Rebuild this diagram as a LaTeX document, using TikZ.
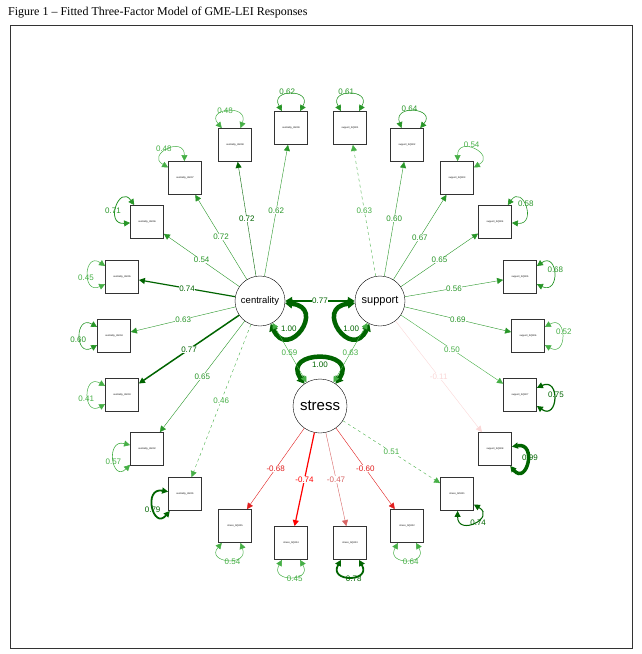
\documentclass[tikz,border=0pt]{standalone}
\usepackage{fontspec}
\setmainfont{Liberation Serif}
\setsansfont{Liberation Sans}
\usetikzlibrary{arrows.meta}

\definecolor{lgreen}{RGB}{70,175,70}
\definecolor{mgreen}{RGB}{40,150,40}
\definecolor{dgreen}{RGB}{0,100,0}
\definecolor{mred}{RGB}{225,30,30}
\definecolor{lred}{RGB}{215,100,100}
\definecolor{fpink}{RGB}{250,215,215}

\tikzset{
  box/.style={draw=black!80,thick,minimum size=33pt,inner sep=0pt,font=\sffamily\fontsize{2.4}{3}\selectfont},
  latent/.style={draw,circle,minimum size=50pt,inner sep=0pt,font=\sffamily},
  load/.style={-{Triangle[length=6pt,width=6pt]}},
  coef/.style={font=\sffamily\fontsize{8}{9}\selectfont,fill=white,inner sep=0.4pt},
}

% residual loop: node, outward angle, label, colour, width
\newcommand{\resloop}[5]{%
  \pgfmathtruncatemacro\ra{#2+28}%
  \pgfmathtruncatemacro\rb{#2-28}%
  \pgfmathtruncatemacro\ca{-(#2+30)}%
  \pgfmathtruncatemacro\cb{-(#2-30)}%
  \pgfmathtruncatemacro\cl{-(#2+6)}%
  \draw[#4,line width=#5,{Triangle[length=6pt,width=6pt]}-{Triangle[length=6pt,width=6pt]}]
    (#1.\ra) .. controls +(\ca:26) and +(\cb:26) .. (#1.\rb);
  \path (#1) ++(\cl:36) node[coef,text=#4,fill=none] {#3};}

\begin{document}
\begin{tikzpicture}[x=1pt,y=-1pt]
\useasboundingbox (0,0) rectangle (641,654);
\node[anchor=west,font=\fontsize{12}{14}\selectfont,inner sep=0pt] (title) at (8,13) {Figure 1 – Fitted Three-Factor Model of GME-LEI Responses};
\draw[black!80] (10,25) rectangle (632,648);

% latent variables
\node[latent,font=\sffamily\fontsize{9.5}{11}\selectfont] (cen) at (260,301) {centrality};
\node[latent,font=\sffamily\fontsize{11}{13}\selectfont] (sup) at (380,301) {support};
\node[latent,minimum size=54pt,font=\sffamily\fontsize{15}{17}\selectfont] (str) at (320,406) {stress};

% centrality indicators
\node[box] (ig1) at (185,494) {centrality\_IG001};
\node[box] (ig2) at (147,449) {centrality\_IG002};
\node[box] (ig3) at (122,395) {centrality\_IG003};
\node[box] (ig4) at (114,336) {centrality\_IG004};
\node[box] (ig5) at (122,277) {centrality\_IG005};
\node[box] (ig6) at (147,222) {centrality\_IG006};
\node[box] (ig7) at (185,178) {centrality\_IG007};
\node[box] (ig8) at (235,145) {centrality\_IG008};
\node[box] (ig9) at (291,128) {centrality\_IG009};

% support indicators
\node[box] (sq1) at (350,128) {support\_SQ001};
\node[box] (sq2) at (407,145) {support\_SQ002};
\node[box] (sq3) at (457,178) {support\_SQ003};
\node[box] (sq4) at (495,222) {support\_SQ004};
\node[box] (sq5) at (520,277) {support\_SQ005};
\node[box] (sq6) at (528,336) {support\_SQ006};
\node[box] (sq7) at (520,395) {support\_SQ007};
\node[box] (sq8) at (495,449) {support\_SQ008};

% stress indicators
\node[box] (so1) at (457,494) {stress\_SO001};
\node[box] (so2) at (407,526) {stress\_SQ002};
\node[box] (so3) at (350,543) {stress\_SQ003};
\node[box] (so4) at (291,543) {stress\_SQ004};
\node[box] (so5) at (235,526) {stress\_SQ005};

% loadings
\draw[load,lgreen,dashed] (cen) -- (ig1) node[midway,coef,text=lgreen] {0.46};
\draw[load,mgreen] (cen) -- (ig2) node[midway,coef] {0.65};
\draw[load,dgreen,line width=1.5pt] (cen) -- (ig3) node[midway,coef] {0.77};
\draw[load,mgreen] (cen) -- (ig4) node[midway,coef] {0.63};
\draw[load,dgreen,line width=1.2pt] (cen) -- (ig5) node[midway,coef] {0.74};
\draw[load,mgreen] (cen) -- (ig6) node[midway,coef] {0.54};
\draw[load,mgreen] (cen) -- (ig7) node[midway,coef] {0.72};
\draw[load,dgreen] (cen) -- (ig8) node[midway,coef] {0.72};
\draw[load,mgreen] (cen) -- (ig9) node[midway,coef] {0.62};

\draw[load,lgreen,dashed] (sup) -- (sq1) node[midway,coef] {0.63};
\draw[load,mgreen] (sup) -- (sq2) node[midway,coef] {0.60};
\draw[load,mgreen] (sup) -- (sq3) node[midway,coef] {0.67};
\draw[load,mgreen] (sup) -- (sq4) node[midway,coef] {0.65};
\draw[load,mgreen] (sup) -- (sq5) node[midway,coef] {0.56};
\draw[load,mgreen] (sup) -- (sq6) node[midway,coef] {0.69};
\draw[load,lgreen] (sup) -- (sq7) node[midway,coef] {0.50};
\draw[load,fpink] (sup) -- (sq8) node[midway,coef] {-0.11};

\draw[load,lgreen,dashed] (str) -- (so1) node[midway,coef] {0.51};
\draw[load,mred] (str) -- (so2) node[midway,coef] {-0.60};
\draw[load,lred] (str) -- (so3) node[midway,coef] {-0.47};
\draw[load,red,line width=1.2pt] (str) -- (so4) node[midway,coef] {-0.74};
\draw[load,mred] (str) -- (so5) node[midway,coef] {-0.68};

% residual variances
\resloop{ig1}{200}{0.79}{dgreen}{1.8pt}
\resloop{ig2}{195}{0.57}{lgreen}{0.6pt}
\resloop{ig3}{180}{0.41}{lgreen}{0.5pt}
\resloop{ig4}{180}{0.60}{mgreen}{0.6pt}
\resloop{ig5}{175}{0.45}{lgreen}{0.5pt}
\resloop{ig6}{155}{0.71}{mgreen}{0.8pt}
\resloop{ig7}{120}{0.48}{lgreen}{0.5pt}
\resloop{ig8}{100}{0.48}{lgreen}{0.5pt}
\resloop{ig9}{90}{0.62}{mgreen}{0.6pt}

\resloop{sq1}{90}{0.61}{mgreen}{0.6pt}
\resloop{sq2}{80}{0.64}{mgreen}{0.6pt}
\resloop{sq3}{60}{0.54}{lgreen}{0.5pt}
\resloop{sq4}{25}{0.58}{mgreen}{0.6pt}
\resloop{sq5}{5}{0.68}{mgreen}{0.7pt}
\resloop{sq6}{0}{0.52}{lgreen}{0.5pt}
\resloop{sq7}{-5}{0.75}{dgreen}{1.2pt}
\resloop{sq8}{-20}{0.99}{dgreen}{3.5pt}

\resloop{so1}{-60}{0.74}{dgreen}{1pt}
\resloop{so2}{-90}{0.64}{lgreen}{0.5pt}
\resloop{so3}{-90}{0.78}{dgreen}{1.8pt}
\resloop{so4}{-90}{0.45}{lgreen}{0.5pt}
\resloop{so5}{-100}{0.54}{lgreen}{0.5pt}

% latent variances and covariances
\draw[dgreen,line width=4.5pt,{Triangle[length=7pt,width=9pt]}-{Triangle[length=7pt,width=9pt]}]
  (cen.-5) .. controls +(5:42) and +(65:42) .. (cen.-65) node[pos=0.5,coef,text=dgreen,fill=none,left=1pt] {1.00};
\draw[dgreen,line width=4.5pt,{Triangle[length=7pt,width=9pt]}-{Triangle[length=7pt,width=9pt]}]
  (sup.185) .. controls +(-185:42) and +(-245:42) .. (sup.245) node[pos=0.5,coef,text=dgreen,fill=none,right=1pt] {1.00};
\draw[dgreen,line width=4.5pt,{Triangle[length=7pt,width=9pt]}-{Triangle[length=7pt,width=9pt]}]
  (str.125) .. controls +(-125:42) and +(-55:42) .. (str.55) node[pos=0.5,coef,text=dgreen,fill=none,below=1pt] {1.00};
\draw[dgreen,line width=2pt,{Triangle[length=7pt,width=8pt]}-{Triangle[length=7pt,width=8pt]}]
  (cen) -- (sup) node[midway,coef,text=dgreen] {0.77};
\draw[lgreen,{Triangle[length=6pt,width=6pt]}-{Triangle[length=6pt,width=6pt]}]
  (cen) -- (str) node[midway,coef,text=lgreen,fill=none] {0.59};
\draw[lgreen,{Triangle[length=6pt,width=6pt]}-{Triangle[length=6pt,width=6pt]}]
  (sup) -- (str) node[midway,coef,text=lgreen,fill=none] {0.63};
\end{tikzpicture}
\end{document}
